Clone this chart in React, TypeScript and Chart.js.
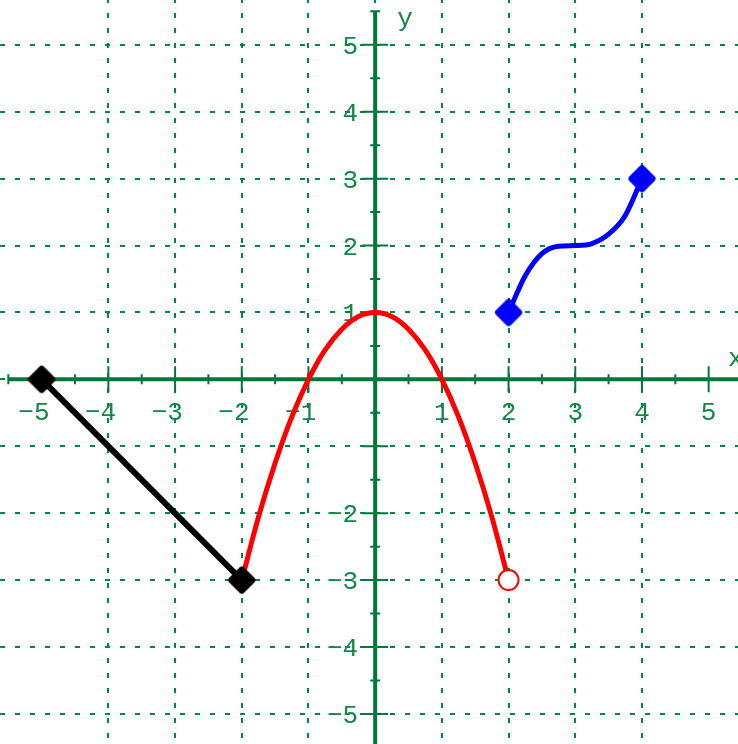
import { useEffect, useRef } from "react";
import { Chart, registerables } from "chart.js";

Chart.register(...registerables);

// ---- data ----
const blackX = [-5, -2];
const blackY = [0, -3];

const redX = [-2, -1.75, -1.5, -1.25, -1, -0.75, -0.5, -0.25, 0, 0.25, 0.5, 0.75, 1, 1.25, 1.5, 1.75, 2];
const redY = [-3, -2.06, -1.25, -0.56, 0, 0.44, 0.75, 0.94, 1, 0.94, 0.75, 0.44, 0, -0.56, -1.25, -2.06, -3];
const redOpenX = [2];
const redOpenY = [-3];

const blueX = [2, 2.25, 2.5, 2.75, 3, 3.25, 3.5, 3.75, 4];
const blueY = [1, 1.55, 1.88, 1.99, 2.0, 2.03, 2.17, 2.45, 3];
const blueDotX = [2, 4];
const blueDotY = [1, 3];

const xTickValues = [-5, -4, -3, -2, -1, 1, 2, 3, 4, 5];
const xTickLabels = ["−5", "−4", "−3", "−2", "−1", "1", "2", "3", "4", "5"];
const yTickValues = [-5, -4, -3, -2, 1, 2, 3, 4, 5];
const yTickLabels = ["−5", "−4", "−3", "−2", "1", "2", "3", "4", "5"];
const minorTickValues = [-5.5, -4.5, -3.5, -2.5, -1.5, -0.5, 0.5, 1.5, 2.5, 3.5, 4.5, 5.5];

const X_MIN = -5.625;
const X_MAX = 5.44;
const Y_MIN = -5.45;
const Y_MAX = 5.67;

const GRID = "rgb(0,135,70)";
const AXIS = "rgb(0,120,58)";
const LABEL = "rgb(20,135,70)";
const FONT = '26px "Liberation Mono", "DejaVu Sans Mono", monospace';

const pts = (xs: number[], ys: number[]) => xs.map((x, i) => ({ x, y: ys[i] }));

function makeDot(color: string): HTMLCanvasElement {
  const c = document.createElement("canvas");
  c.width = 30;
  c.height = 30;
  const g = c.getContext("2d")!;
  g.fillStyle = color;
  g.strokeStyle = color;
  g.lineJoin = "round";
  g.lineWidth = 7;
  g.beginPath();
  g.moveTo(15, 5);
  g.lineTo(25, 15);
  g.lineTo(15, 25);
  g.lineTo(5, 15);
  g.closePath();
  g.fill();
  g.stroke();
  return c;
}

const axesPlugin = {
  id: "mathAxes",
  beforeDatasetsDraw(chart: any) {
    const { ctx } = chart;
    const xs = chart.scales.x;
    const ys = chart.scales.y;
    const x0 = xs.getPixelForValue(0);
    const y0 = ys.getPixelForValue(0);
    ctx.save();
    ctx.strokeStyle = AXIS;
    ctx.lineCap = "butt";
    // axes
    ctx.lineWidth = 4;
    ctx.beginPath();
    ctx.moveTo(xs.getPixelForValue(-5.5), y0);
    ctx.lineTo(chart.width, y0);
    ctx.stroke();
    ctx.beginPath();
    ctx.moveTo(x0, ys.getPixelForValue(5.5));
    ctx.lineTo(x0, chart.height);
    ctx.stroke();
    // ticks
    ctx.lineWidth = 2;
    ctx.beginPath();
    for (const v of xTickValues) {
      const px = xs.getPixelForValue(v);
      ctx.moveTo(px, y0 - 13);
      ctx.lineTo(px, y0 + 13);
    }
    for (const v of yTickValues) {
      const py = ys.getPixelForValue(v);
      ctx.moveTo(x0 - 13, py);
      ctx.lineTo(x0 + 13, py);
    }
    ctx.moveTo(x0 - 13, ys.getPixelForValue(-1));
    ctx.lineTo(x0 + 13, ys.getPixelForValue(-1));
    for (const v of minorTickValues) {
      const px = xs.getPixelForValue(v);
      ctx.moveTo(px, y0 - 5);
      ctx.lineTo(px, y0 + 5);
      const py = ys.getPixelForValue(v);
      ctx.moveTo(x0 - 5, py);
      ctx.lineTo(x0 + 5, py);
    }
    ctx.stroke();
    // labels
    ctx.font = FONT;
    ctx.fillStyle = LABEL;
    ctx.textBaseline = "alphabetic";
    const cw = ctx.measureText("0").width;
    ctx.textAlign = "right";
    xTickValues.forEach((v, i) => {
      const px = xs.getPixelForValue(v);
      ctx.fillText(xTickLabels[i], px + cw / 2, y0 + 41);
    });
    yTickValues.forEach((v, i) => {
      const py = ys.getPixelForValue(v);
      ctx.fillText(yTickLabels[i], x0 - 17, py + 9);
    });
    ctx.textAlign = "left";
    ctx.fillText("x", xs.getPixelForValue(5.29), y0 - 13);
    ctx.fillText("y", x0 + 22, ys.getPixelForValue(5.28));
    ctx.restore();
  },
};

export default function App() {
  const ref = useRef<HTMLCanvasElement | null>(null);

  useEffect(() => {
    if (!ref.current) return;
    const blackDot = makeDot("#000000");
    const blueDot = makeDot("#0000ff");
    const hideSizeX = (s: any) => {
      s.height = 0;
    };
    const hideSizeY = (s: any) => {
      s.width = 0;
    };
    const intOnly = (s: any) => {
      s.ticks = s.ticks.filter((t: any) => Number.isInteger(t.value));
    };
    const chart = new Chart(ref.current, {
      type: "scatter",
      data: {
        datasets: [
          {
            data: pts(redX, redY),
            showLine: true,
            borderColor: "#ff0000",
            borderWidth: 5,
            pointRadius: 0,
            cubicInterpolationMode: "monotone",
            order: 5,
          } as any,
          {
            data: pts(blueX, blueY),
            showLine: true,
            borderColor: "#0000ff",
            borderWidth: 5,
            pointRadius: 0,
            cubicInterpolationMode: "monotone",
            order: 5,
          } as any,
          {
            data: pts(blackX, blackY),
            showLine: true,
            borderColor: "#000000",
            borderWidth: 6,
            pointStyle: blackDot,
            pointRadius: 12,
            order: 4,
          } as any,
          {
            data: pts(blueDotX, blueDotY),
            showLine: false,
            pointStyle: blueDot,
            pointRadius: 12,
            order: 1,
          } as any,
          {
            data: pts(redOpenX, redOpenY),
            showLine: false,
            pointStyle: "circle",
            pointRadius: 10,
            pointBorderWidth: 2,
            pointBorderColor: "#ff0000",
            pointBackgroundColor: "#ffffff",
            order: 1,
          } as any,
        ],
      },
      options: {
        responsive: false,
        animation: false,
        devicePixelRatio: 1,
        layout: { padding: 0, autoPadding: false },
        plugins: { legend: { display: false }, tooltip: { enabled: false } },
        events: [],
        scales: {
          x: {
            type: "linear",
            min: X_MIN,
            max: X_MAX,
            afterFit: hideSizeX,
            afterBuildTicks: intOnly,
            ticks: { display: false, stepSize: 1 },
            grid: { color: GRID, lineWidth: 2, drawTicks: false, tickLength: 0 },
            border: { display: false, dash: [5, 10], dashOffset: 2 },
          },
          y: {
            type: "linear",
            min: Y_MIN,
            max: Y_MAX,
            afterFit: hideSizeY,
            afterBuildTicks: intOnly,
            ticks: { display: false, stepSize: 1 },
            grid: { color: GRID, lineWidth: 2, drawTicks: false, tickLength: 0 },
            border: { display: false, dash: [5, 10], dashOffset: 0 },
          },
        },
      } as any,
      plugins: [axesPlugin],
    });
    return () => chart.destroy();
  }, []);

  return (
    <div style={{ position: "fixed", left: 0, top: 0, width: 738, height: 744, background: "#fff" }}>
      <canvas ref={ref} width={738} height={744} style={{ display: "block", width: 738, height: 744 }} />
    </div>
  );
}
